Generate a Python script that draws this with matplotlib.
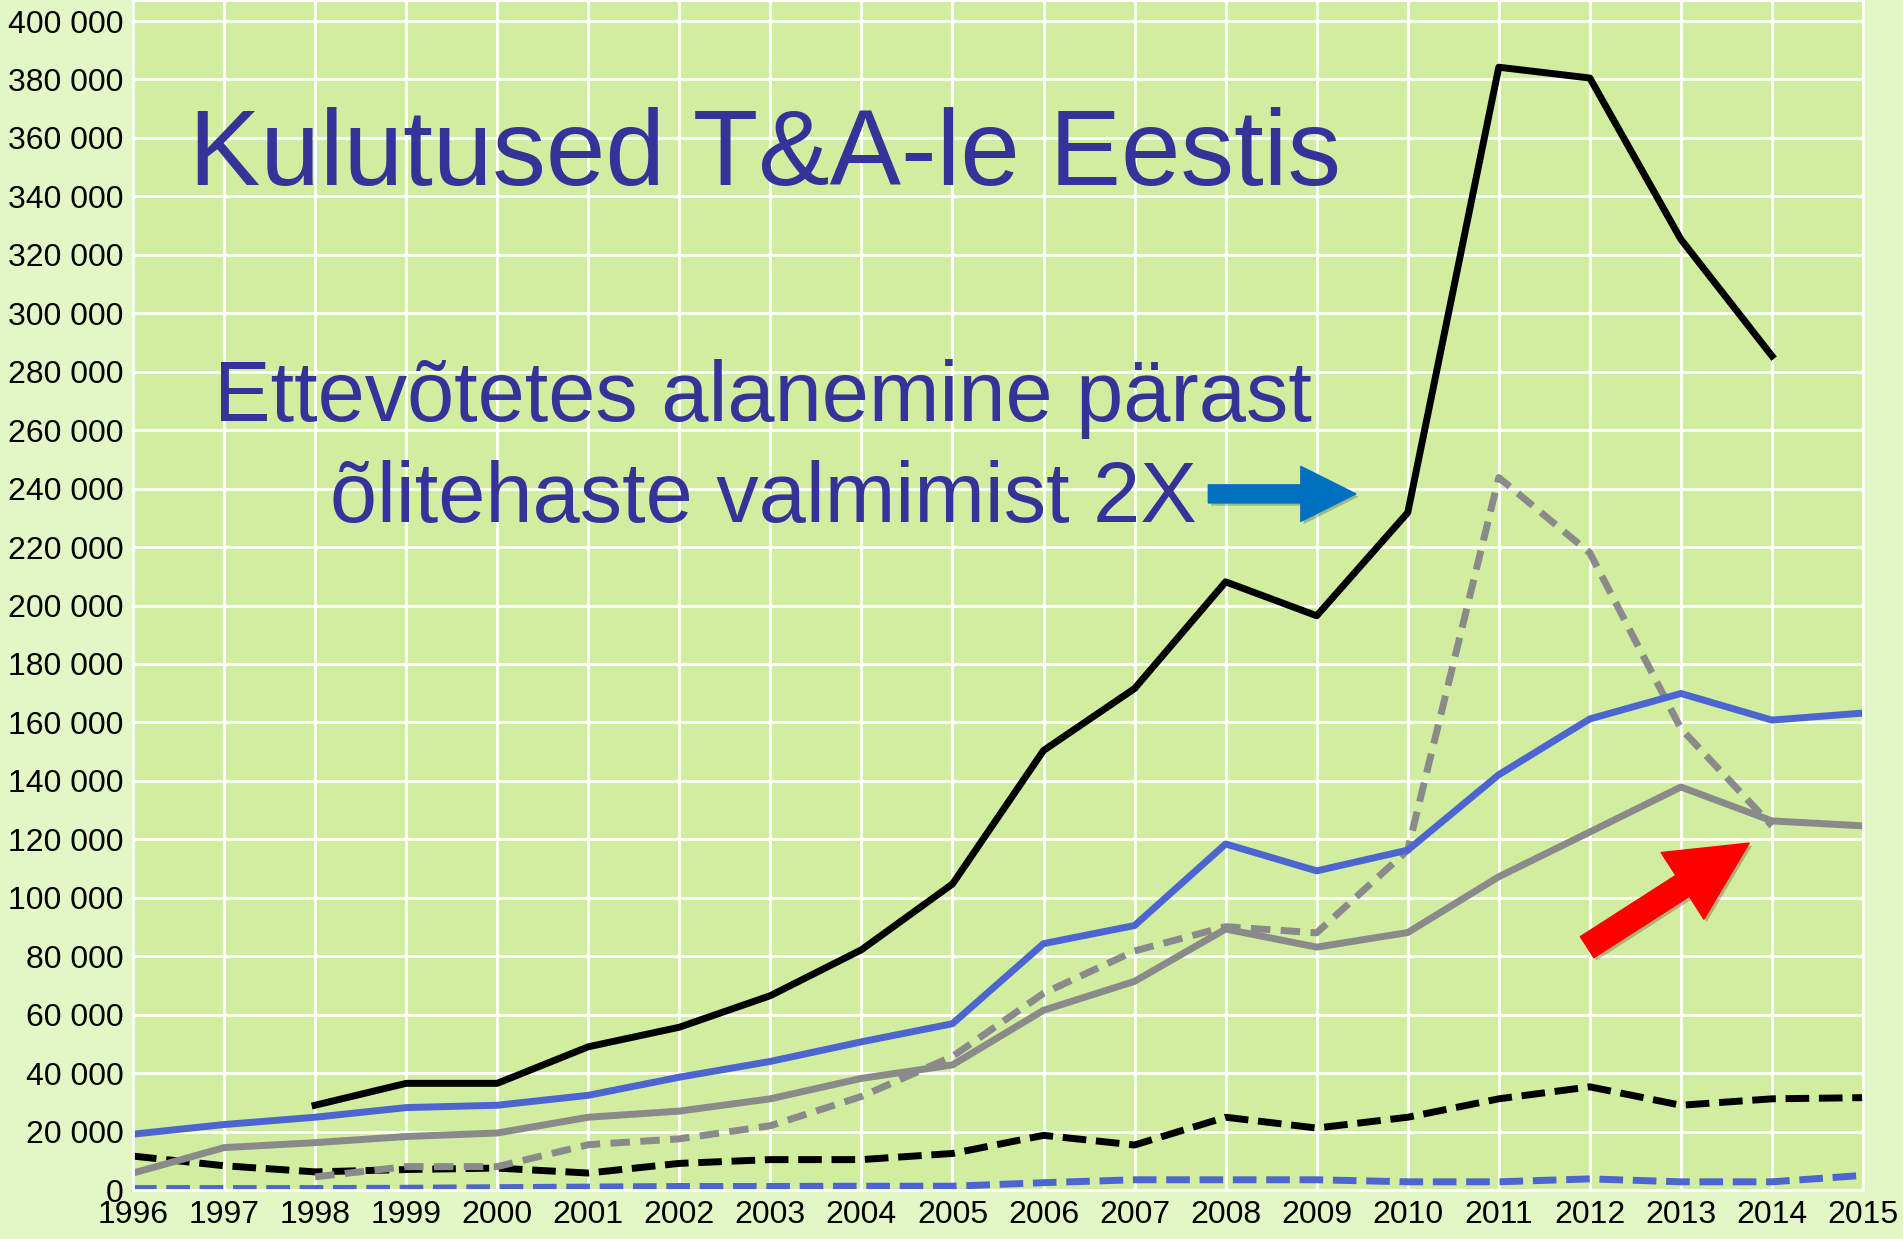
import numpy as np
import matplotlib
matplotlib.use('Agg')
import matplotlib.pyplot as plt
from matplotlib.ticker import FuncFormatter, MultipleLocator
import matplotlib.patheffects as pe

nan = np.nan
years = np.arange(1996, 2016)

# R&D expenditure series (thousands), one value per year 1996..2015
total = [nan, nan, 29000, 36500, 36500, 49000, 55700, 66500, 82200, 104700,
         150400, 171600, 208100, 196500, 231800, 384200, 380500, 325300, 285400, nan]
blue_solid = [19100, 22400, 24900, 28200, 29000, 32400, 38600, 44000, 50700, 56900,
              84300, 90500, 118400, 109200, 116300, 142100, 161200, 169900, 160800, 163200]
gray_solid = [5800, 14500, 16200, 18300, 19500, 24900, 27000, 31200, 38200, 42800,
              61500, 71400, 89300, 83100, 88100, 107200, 122500, 137900, 126300, 124600]
gray_dashed = [nan, nan, 4500, 8000, 8000, 15500, 17500, 22000, 32000, 45700,
               67300, 81800, 90100, 88000, 116300, 243800, 218000, 157900, 124600, nan]
black_dashed = [11600, 8300, 6200, 7000, 7500, 5800, 9100, 10400, 10400, 12500,
                18700, 15400, 24900, 21200, 24900, 31200, 35300, 29000, 31200, 31600]
blue_dashed = [500, 500, 500, 600, 800, 1000, 1200, 1200, 1300, 1300,
               2500, 3500, 3500, 3500, 2800, 2800, 3800, 2800, 2800, 5000]

title = 'Kulutused T&A-le Eestis'
note_lines = ['Ettevõtetes alanemine pärast', 'õlitehaste valmimist 2X']

plt.rcParams['font.family'] = ['Liberation Sans', 'DejaVu Sans']

W, H = 1903, 1239
fig = plt.figure(figsize=(W / 100, H / 100), dpi=100)
fig.patch.set_facecolor('#e3f7c6')
ax = fig.add_axes([133 / W, 49 / H, 1730 / W, 1190 / H])
ax.set_facecolor('#d0eda0')

lw = 5
ax.plot(years, blue_dashed, color='#4d65d1', lw=lw, dashes=(3.4, 1.4))
ax.plot(years, black_dashed, color='black', lw=lw, dashes=(3.4, 1.4))
ax.plot(years, gray_dashed, color='#8a8a8a', lw=lw, dashes=(2.8, 1.5))
ax.plot(years, gray_solid, color='#8a8a8a', lw=lw)
ax.plot(years, blue_solid, color='#4d65d1', lw=lw)
ax.plot(years, total, color='black', lw=lw)

ax.set_xlim(1996, 2015)
ax.set_ylim(0, 407200)
ax.xaxis.set_major_locator(MultipleLocator(1))
ax.yaxis.set_major_locator(MultipleLocator(20000))
ax.yaxis.set_major_formatter(FuncFormatter(lambda v, p: f'{int(v):,}'.replace(',', ' ')))
ax.grid(True, color='white', lw=2)
ax.set_axisbelow(True)
for s in ax.spines.values():
    s.set_color('white')
    s.set_linewidth(2)
ax.tick_params(length=0, colors='black', labelsize=23)
ax.tick_params(axis='x', pad=7)
ax.tick_params(axis='y', pad=7)

navy = '#333399'
fig.text(189 / W, 1 - 185 / H, title, fontsize=77, color=navy, va='baseline', ha='left')
fig.text(763 / W, 1 - 421 / H, note_lines[0], fontsize=61, color=navy, va='baseline', ha='center')
fig.text(763 / W, 1 - 522 / H, note_lines[1], fontsize=61, color=navy, va='baseline', ha='center')

shadow = [pe.SimplePatchShadow(offset=(2, -2), alpha=0.25), pe.Normal()]
ax.annotate('', xy=(2009.43, 238200), xytext=(2007.81, 238200),
            arrowprops=dict(arrowstyle='simple,head_width=3.96,head_length=3.96,tail_width=1.3',
                            mutation_scale=10, color='#0070c0', shrinkA=0, shrinkB=0,
                            path_effects=shadow), zorder=5)
ax.annotate('', xy=(2013.75, 118700), xytext=(2011.97, 83100),
            arrowprops=dict(arrowstyle='simple,head_width=5.7,head_length=5.7,tail_width=1.8',
                            mutation_scale=10, color='#ff0000', shrinkA=0, shrinkB=0,
                            path_effects=shadow), zorder=5)

fig.savefig('out.png', dpi=100, facecolor=fig.get_facecolor())
